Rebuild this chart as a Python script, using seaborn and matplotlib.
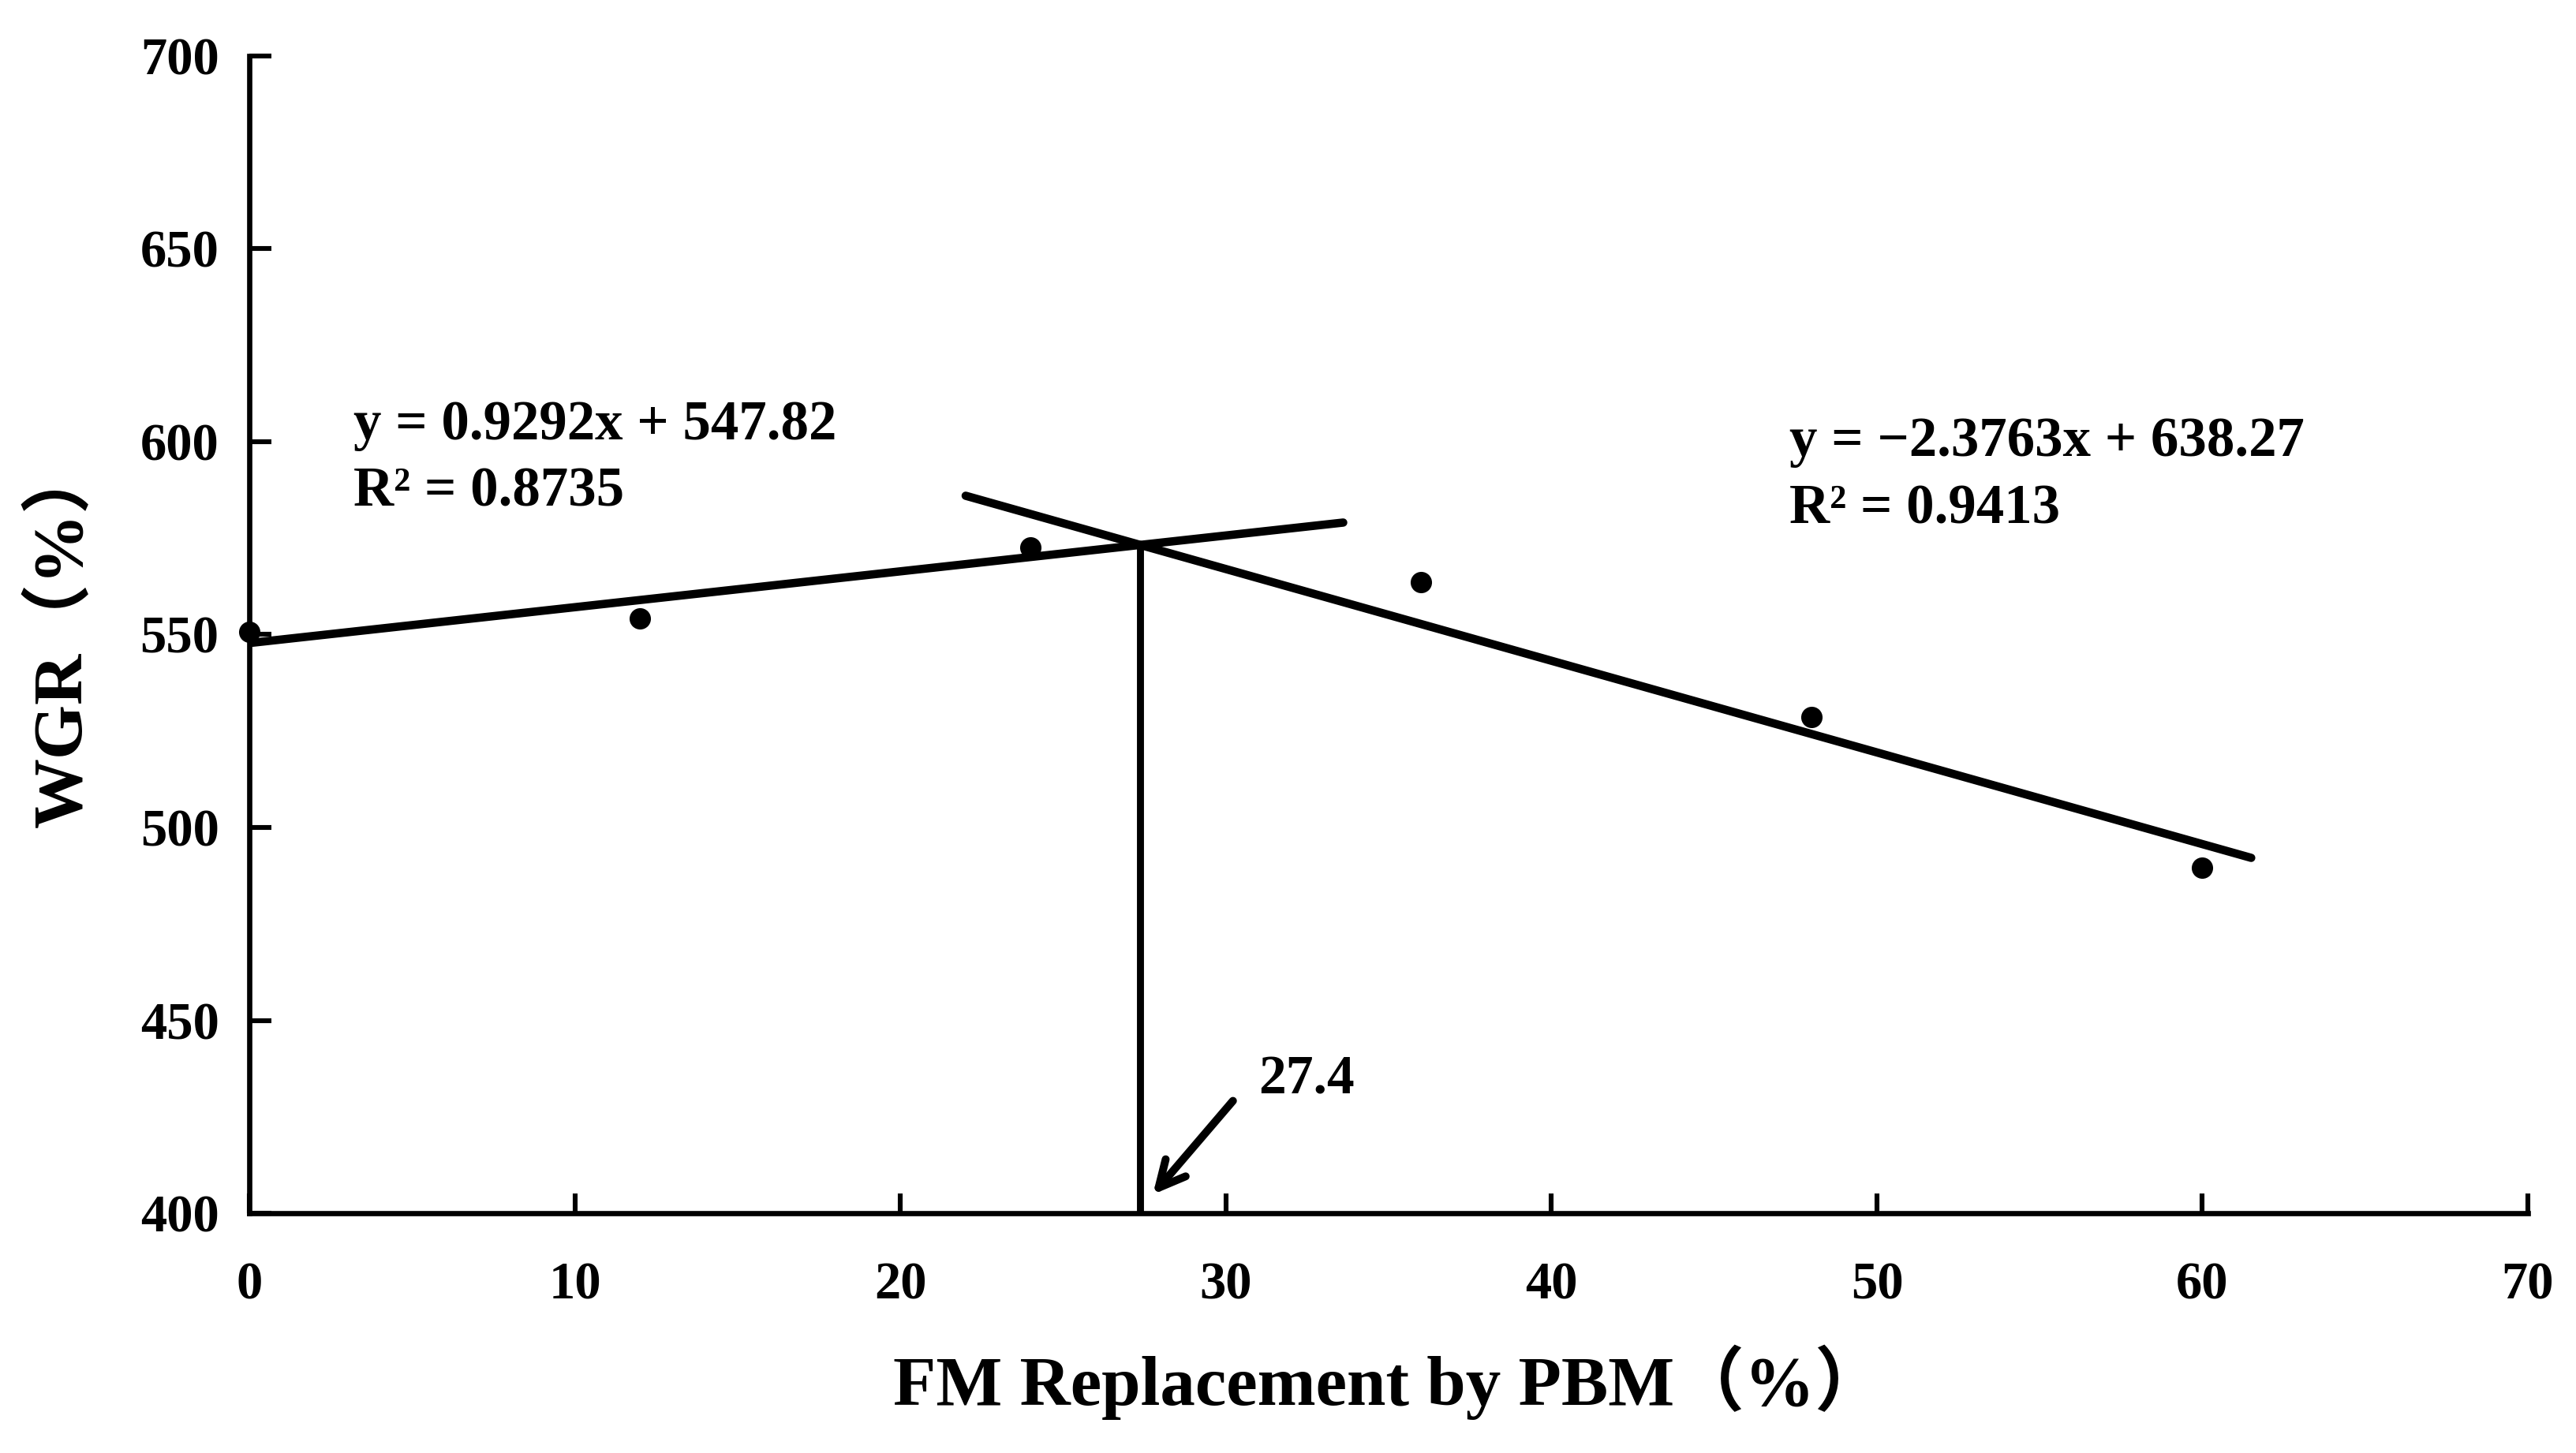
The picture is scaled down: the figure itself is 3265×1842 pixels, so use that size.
import numpy as np
import pandas as pd
import matplotlib
matplotlib.use("Agg")
import matplotlib.pyplot as plt
import seaborn as sns

# ---- data ----
replacement = [0, 12, 24, 36, 48, 60]
wgr = [550.8, 554.2, 572.6, 563.6, 528.7, 489.5]

slopes = [0.9292, -2.3763]
intercepts = [547.82, 638.27]
line_x_start = [0.0, 22.0]
line_x_end = [33.6, 61.5]
eq_labels = ["y = 0.9292x + 547.82\nR² = 0.8735",
             "y = −2.3763x + 638.27\nR² = 0.9413"]
breakpoint_label = "27.4"

x_ticks = [0, 10, 20, 30, 40, 50, 60, 70]
y_ticks = [400, 450, 500, 550, 600, 650, 700]

# ---- style ----
sns.set_theme(style="ticks")
serif = ["Liberation Serif", "Noto Sans CJK SC", "DejaVu Sans"]
plt.rcParams["font.family"] = serif
plt.rcParams["font.weight"] = "bold"
for k in ["text.color", "axes.labelcolor", "xtick.color", "ytick.color",
          "axes.edgecolor"]:
    plt.rcParams[k] = "black"

fig = plt.figure(figsize=(16.33, 9.21), dpi=200)
ax = fig.add_axes([0.0969, 0.165, 0.981 - 0.0969, 0.9615 - 0.165])

df = pd.DataFrame({"x": replacement, "y": wgr})
sns.scatterplot(data=df, x="x", y="y", ax=ax, color="black", s=95,
                edgecolor="black", linewidth=0, zorder=3, clip_on=False)

# fitted lines
for m, b, x0, x1 in zip(slopes, intercepts, line_x_start, line_x_end):
    xs = np.array([x0, x1])
    lf = pd.DataFrame({"x": xs, "y": m * xs + b})
    sns.lineplot(data=lf, x="x", y="y", ax=ax, color="black", lw=3.8,
                 zorder=2)

# breakpoint
xb = (intercepts[1] - intercepts[0]) / (slopes[0] - slopes[1])
yb = slopes[0] * xb + intercepts[0]
ax.plot([xb, xb], [400, yb], color="black", lw=3.2, zorder=2)
ax.annotate("", xy=(xb + 0.3, 404), xytext=(30.3, 430),
            arrowprops=dict(arrowstyle="->,head_length=1.0,head_width=0.5",
                            color="black", lw=3.6))
ax.text(31.0, 434.5, breakpoint_label, fontsize=25, fontweight="bold",
        va="center", ha="left", family=serif)

ax.text(3.2, 595.5, eq_labels[0], fontsize=25.5, fontweight="bold",
        va="center", ha="left", linespacing=1.4, family=serif)
ax.text(47.3, 591.2, eq_labels[1], fontsize=25.5, fontweight="bold",
        va="center", ha="left", linespacing=1.4, family=serif)

ax.set_xlim(0, 70)
ax.set_ylim(400, 700)
ax.set_xticks(x_ticks)
ax.set_yticks(y_ticks)
ax.tick_params(axis="both", direction="in", width=2.2, colors="black",
               labelsize=24)
ax.tick_params(axis="y", length=10, pad=14)
ax.tick_params(axis="x", length=9, pad=22)
for lab in ax.get_xticklabels() + ax.get_yticklabels():
    lab.set_fontweight("bold")

sns.despine(ax=ax)
for sp in ["left", "bottom"]:
    ax.spines[sp].set_linewidth(2.4)
    ax.spines[sp].set_color("black")

ax.set_xlabel("FM Replacement by PBM（%）", fontsize=32, fontweight="bold",
              labelpad=16)
ax.set_ylabel("WGR（%）", fontsize=32, fontweight="bold", labelpad=20)

fig.savefig("out.png", dpi=200, facecolor="white")
